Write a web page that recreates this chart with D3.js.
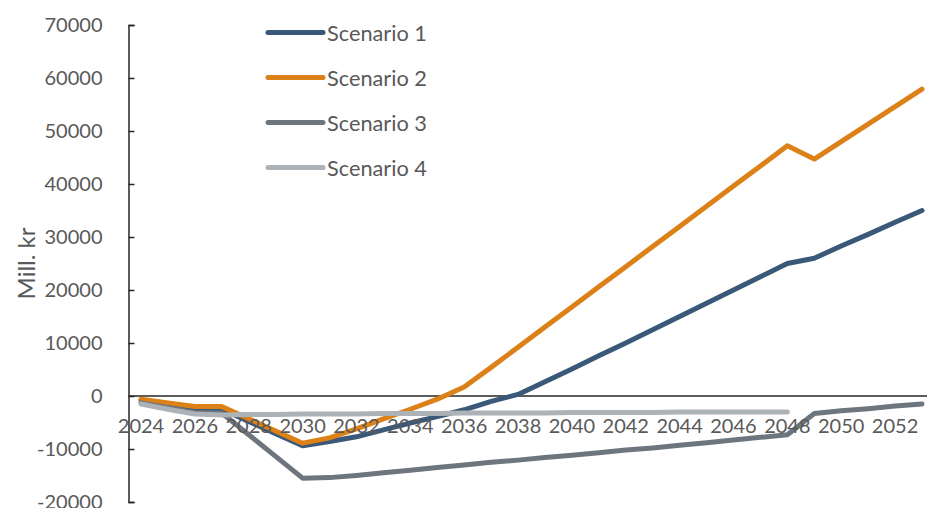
<!DOCTYPE html>
<html>
<head>
<meta charset="utf-8">
<script src="https://cdn.jsdelivr.net/npm/d3@7"></script>
<style>
  html, body { margin: 0; padding: 0; background: #fff; }
  svg { display: block; }
  text { font-family: Lato, "Open Sans", sans-serif; fill: #595959; }
</style>
</head>
<body>
<svg id="chart" width="927" height="508"></svg>
<script>
const years = d3.range(2024, 2054);
const yearLabels = years.filter(y => y % 2 === 0);
const yTicks = [-20000, -10000, 0, 10000, 20000, 30000, 40000, 50000, 60000, 70000];
const seriesNames = ["Scenario 1", "Scenario 2", "Scenario 3", "Scenario 4"];
const seriesColors = ["#3A5877", "#DC8118", "#6D767E", "#ADB2B7"];

const scenario1 = [-800, -1600, -2400, -2500, -4800, -7100, -9400, -8600, -7700, -6400,
  -5100, -3900, -2600, -1000, 300, 2700, 5100, 7600, 10000, 12500,
  15000, 17500, 20000, 22500, 25000, 26000, 28300, 30500, 32800, 35000];
const scenario2 = [-600, -1300, -2000, -2000, -4300, -6600, -8900, -7900, -6200, -4300,
  -2500, -600, 1700, 5400, 9200, 13000, 16800, 20600, 24400, 28200,
  32000, 35800, 39600, 43400, 47200, 44700, 48000, 51300, 54600, 57900];
const scenario3 = [-1300, -2200, -3100, -3200, -7300, -11400, -15500, -15400, -15000, -14500,
  -14000, -13500, -13000, -12500, -12100, -11600, -11200, -10700, -10200, -9800,
  -9300, -8800, -8300, -7800, -7300, -3300, -2800, -2400, -1900, -1500];
const scenario4 = [-1500, -2500, -3400, -3600, -3500, -3500, -3400, -3400, -3400, -3300,
  -3300, -3300, -3200, -3200, -3200, -3200, -3100, -3100, -3100, -3100,
  -3000, -3000, -3000, -3000, -3000, null, null, null, null, null];

const seriesValues = [scenario1, scenario2, scenario3, scenario4];

const svg = d3.select("#chart");
const plotLeft = 128.5;

const x = d3.scalePoint().domain(years).range([141, 922]);
const y = d3.scaleLinear().domain([-20000, 70000]).range([502, 25]);

// fit a text's font size so it spans a target width
function fitWidth(sel, target) {
  const node = sel.node();
  const w = node.getComputedTextLength();
  const fs = parseFloat(sel.attr("font-size"));
  if (w > 0) sel.attr("font-size", fs * target / w);
}

// Y axis
const yAxis = d3.axisLeft(y)
  .tickValues(yTicks)
  .tickFormat(d => String(d))
  .tickSize(-6)
  .tickSizeOuter(-6)
  .tickPadding(26);
const yg = svg.append("g").attr("transform", `translate(${plotLeft},0)`).call(yAxis);
yg.select(".domain").attr("stroke", "#262626").attr("stroke-width", 1.5);
yg.selectAll(".tick line").attr("stroke", "#262626").attr("stroke-width", 1.5);
yg.selectAll(".tick text")
  .attr("font-family", "Lato, 'Open Sans', sans-serif")
  .attr("font-size", 20)
  .attr("fill", "#595959");

// Zero line
svg.append("line")
  .attr("x1", plotLeft).attr("x2", 927)
  .attr("y1", y(0)).attr("y2", y(0))
  .attr("stroke", "#262626").attr("stroke-width", 1.5);

// Y title
const title = svg.append("text")
  .attr("transform", `translate(25,${(y(70000) + y(-20000)) / 2}) rotate(-90)`)
  .attr("text-anchor", "middle")
  .attr("dominant-baseline", "central")
  .attr("font-size", 20)
  .text("Mill. kr");
fitWidth(title, 72);

// Lines
const line = d3.line()
  .defined(d => d.v !== null)
  .x(d => x(d.year))
  .y(d => y(d.v));

seriesValues.forEach((vals, i) => {
  const data = years.map((yr, j) => ({ year: yr, v: vals[j] }));
  svg.append("path")
    .datum(data)
    .attr("fill", "none")
    .attr("stroke", seriesColors[i])
    .attr("stroke-width", 5)
    .attr("stroke-linecap", "round")
    .attr("stroke-linejoin", "round")
    .attr("d", line);
});

// X labels
svg.append("g").selectAll("text")
  .data(yearLabels)
  .join("text")
  .attr("x", d => x(d))
  .attr("y", 433)
  .attr("text-anchor", "middle")
  .attr("font-size", 20)
  .text(d => d);

// Legend
const legend = svg.append("g");
seriesNames.forEach((name, i) => {
  const ly = 32.5 + i * 45;
  legend.append("line")
    .attr("x1", 268).attr("x2", 323)
    .attr("y1", ly).attr("y2", ly)
    .attr("stroke", seriesColors[i])
    .attr("stroke-width", 5)
    .attr("stroke-linecap", "round");
  const t = legend.append("text")
    .attr("x", 327)
    .attr("y", ly)
    .attr("dominant-baseline", "central")
    .attr("font-size", 20)
    .text(name);
  fitWidth(t, 100);
});
</script>
</body>
</html>
